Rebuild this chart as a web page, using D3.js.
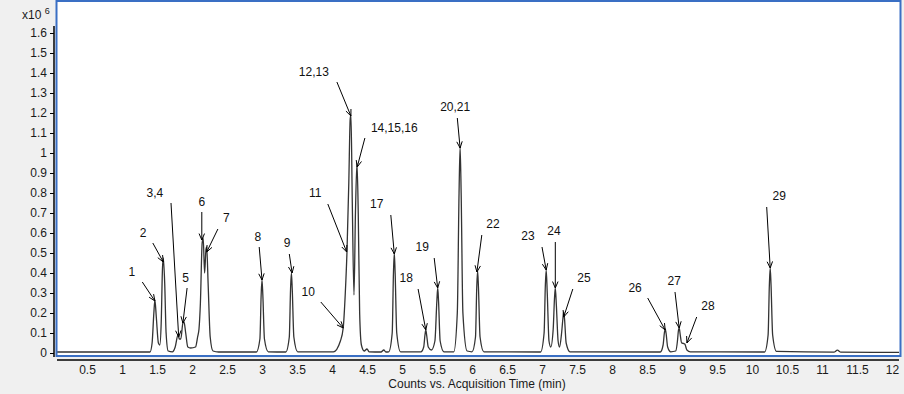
<!DOCTYPE html>
<html>
<head>
<meta charset="utf-8">
<script src="https://cdn.jsdelivr.net/npm/d3@7"></script>
<style>
  body { margin: 0; background: #f0f0f0; }
  svg { display: block; font-family: "Liberation Sans", Arial, sans-serif; }
</style>
</head>
<body>
<svg width="904" height="394"></svg>
<script>
// chromatogram trace, [time (min), counts x10^6]
var trace = [
  [0.07,0.005],[1.40,0.005],[1.43,0.05],[1.455,0.2],[1.47,0.265],[1.49,0.18],[1.52,0.05],[1.54,0.04],
  [1.56,0.15],[1.578,0.42],[1.59,0.475],[1.61,0.35],[1.63,0.1],[1.66,0.01],[1.72,0.006],[1.76,0.03],
  [1.80,0.09],[1.82,0.07],[1.84,0.07],[1.87,0.15],[1.886,0.155],[1.91,0.1],[1.94,0.03],[1.98,0.025],
  [2.05,0.03],[2.08,0.08],[2.10,0.12],[2.12,0.25],[2.145,0.55],[2.16,0.575],[2.18,0.4],[2.20,0.52],
  [2.21,0.53],[2.23,0.35],[2.26,0.08],[2.30,0.01],[2.38,0.005],
  [2.92,0.005],[2.97,0.07],[2.988,0.29],[3.0,0.365],[3.012,0.29],[3.035,0.07],[3.09,0.006],
  [3.34,0.005],[3.39,0.08],[3.408,0.32],[3.42,0.40],[3.432,0.32],[3.455,0.08],[3.51,0.006],
  [4.02,0.006],[4.12,0.06],[4.16,0.125],[4.19,0.3],[4.214,0.505],[4.24,0.85],[4.26,1.17],[4.271,1.19],
  [4.29,0.75],[4.314,0.29],[4.335,0.7],[4.357,0.95],[4.375,0.7],[4.395,0.2],[4.42,0.04],[4.46,0.01],
  [4.5,0.02],[4.53,0.006],[4.70,0.005],[4.74,0.015],[4.77,0.005],
  [4.81,0.006],[4.86,0.1],[4.878,0.4],[4.89,0.50],[4.902,0.4],[4.925,0.1],[4.98,0.006],
  [5.27,0.006],[5.31,0.03],[5.328,0.09],[5.34,0.115],[5.352,0.09],[5.375,0.03],[5.42,0.015],
  [5.47,0.06],[5.498,0.26],[5.51,0.325],[5.522,0.26],[5.545,0.06],[5.60,0.006],
  [5.74,0.006],[5.79,0.2],[5.815,0.8],[5.83,1.03],[5.845,0.8],[5.87,0.2],[5.93,0.01],
  [6.0,0.006],[6.05,0.08],[6.068,0.33],[6.08,0.41],[6.092,0.33],[6.115,0.08],[6.17,0.006],
  [6.98,0.005],[7.03,0.1],[7.048,0.34],[7.06,0.415],[7.075,0.3],[7.10,0.06],[7.125,0.03],
  [7.16,0.12],[7.178,0.27],[7.19,0.325],[7.205,0.24],[7.23,0.06],[7.25,0.03],[7.28,0.1],
  [7.298,0.17],[7.31,0.205],[7.322,0.17],[7.345,0.05],[7.40,0.006],
  [8.69,0.005],[8.73,0.04],[8.748,0.1],[8.76,0.12],[8.772,0.1],[8.795,0.03],[8.84,0.006],
  [8.91,0.01],[8.935,0.06],[8.948,0.11],[8.96,0.125],[8.975,0.09],[8.995,0.05],[9.02,0.048],
  [9.04,0.045],[9.07,0.015],[9.12,0.006],
  [10.18,0.005],[10.23,0.09],[10.248,0.34],[10.26,0.425],[10.272,0.34],[10.295,0.09],[10.35,0.008],
  [11.17,0.004],[11.22,0.014],[11.27,0.004],[12.1,0.003]
];

// peak labels: text, label centre, arrow tail, arrow tip (time, counts x10^6)
var peakLabels = ["1","2","3,4","5","6","7","8","9","10","11","12,13","14,15,16","17","18","19",
  "20,21","22","23","24","25","26","27","28","29"];
var labelPos = [[1.14,0.405],[1.30,0.60],[1.47,0.80],[1.91,0.375],[2.14,0.755],[2.49,0.675],
  [2.94,0.58],[3.36,0.55],[3.66,0.305],[3.76,0.80],[3.74,1.405],[4.89,1.125],[4.64,0.745],
  [5.06,0.375],[5.29,0.53],[5.76,1.23],[6.30,0.645],[6.80,0.585],[7.17,0.61],[7.60,0.375],
  [8.33,0.325],[8.89,0.36],[9.37,0.235],[10.39,0.785]];
var arrowTail = [[1.29,0.355],[1.44,0.55],[1.70,0.75],[1.93,0.325],[2.14,0.705],[2.37,0.62],
  [2.96,0.53],[3.39,0.495],[3.84,0.255],[3.94,0.745],[4.07,1.355],[4.47,1.075],[4.84,0.69],
  [5.23,0.32],[5.46,0.475],[5.79,1.175],[6.14,0.59],[7.0,0.53],[7.19,0.555],[7.44,0.32],
  [8.51,0.275],[8.90,0.305],[9.21,0.18],[10.21,0.73]];
var arrowTip = [[1.47,0.26],[1.59,0.455],[1.81,0.08],[1.87,0.15],[2.14,0.565],[2.21,0.505],
  [3.0,0.365],[3.43,0.40],[4.16,0.125],[4.21,0.505],[4.27,1.185],[4.36,0.93],[4.89,0.495],
  [5.34,0.115],[5.51,0.325],[5.83,1.025],[6.07,0.405],[7.06,0.415],[7.19,0.325],[7.31,0.18],
  [8.76,0.115],[8.96,0.125],[9.07,0.05],[10.26,0.425]];

var xTicks = [0.5,1,1.5,2,2.5,3,3.5,4,4.5,5,5.5,6,6.5,7,7.5,8,8.5,9,9.5,10,10.5,11,11.5,12];
var yTicks = [0,0.1,0.2,0.3,0.4,0.5,0.6,0.7,0.8,0.9,1,1.1,1.2,1.3,1.4,1.5,1.6];

var svg = d3.select("svg");
var plotL = 57, plotR = 900, plotT = 1, plotB = 356;

var x = d3.scaleLinear().domain([0, 12]).range([52, 892]);
var y = d3.scaleLinear().domain([0, 1.6]).range([353, 33]);

// plot area
svg.append("rect")
  .attr("x", plotL).attr("y", plotT)
  .attr("width", plotR - plotL).attr("height", plotB - plotT)
  .attr("fill", "#fff");

svg.append("clipPath").attr("id", "clip")
  .append("rect").attr("x", plotL).attr("y", plotT)
  .attr("width", plotR - plotL).attr("height", plotB - plotT);

var line = d3.line()
  .x(function(d) { return x(d[0]); })
  .y(function(d) { return y(d[1]); })
  .curve(d3.curveMonotoneX);

svg.append("path")
  .datum(trace)
  .attr("clip-path", "url(#clip)")
  .attr("d", line)
  .attr("fill", "none")
  .attr("stroke", "#333")
  .attr("stroke-width", 1.3);

// annotations
var ann = svg.append("g").attr("class", "ann");
peakLabels.forEach(function(lab, i) {
  var x1 = x(arrowTail[i][0]), y1 = y(arrowTail[i][1]);
  var x2 = x(arrowTip[i][0]), y2 = y(arrowTip[i][1]);
  ann.append("line")
    .attr("x1", x1).attr("y1", y1).attr("x2", x2).attr("y2", y2)
    .attr("stroke", "#000").attr("stroke-width", 1);
  var a = Math.atan2(y2 - y1, x2 - x1), len = 7, spread = 0.4;
  var head = [
    [x2 - len * Math.cos(a - spread), y2 - len * Math.sin(a - spread)],
    [x2, y2],
    [x2 - len * Math.cos(a + spread), y2 - len * Math.sin(a + spread)]
  ];
  ann.append("path")
    .attr("d", d3.line()(head))
    .attr("fill", "none").attr("stroke", "#000").attr("stroke-width", 1);
  ann.append("text")
    .attr("x", x(labelPos[i][0])).attr("y", y(labelPos[i][1]))
    .attr("text-anchor", "middle").attr("dy", "0.35em")
    .attr("font-size", 12).attr("fill", "#111")
    .text(lab);
});

// blue frame
svg.append("rect")
  .attr("x", plotL - 0.5).attr("y", plotT)
  .attr("width", plotR - plotL + 1).attr("height", plotB - plotT)
  .attr("fill", "none").attr("stroke", "#3a6fc4").attr("stroke-width", 2);

// y axis
var yAxis = d3.axisLeft(y).tickValues(yTicks).tickSize(4).tickPadding(3)
  .tickFormat(d3.format("~g"));
var gy = svg.append("g").attr("transform", "translate(54,0)").call(yAxis);
gy.select(".domain").attr("d", "M0,26V357").attr("stroke", "#000").attr("stroke-width", 1.5);
gy.selectAll("text").attr("font-size", 12).attr("fill", "#1a1a1a")
  .attr("font-family", "Liberation Sans, Arial, sans-serif");

// x axis
var xAxis = d3.axisBottom(x).tickValues(xTicks).tickSize(0).tickPadding(5)
  .tickFormat(d3.format("~g"));
var gx = svg.append("g").attr("transform", "translate(0,360)").call(xAxis);
gx.select(".domain").attr("d", "M57,0H899").attr("stroke", "#000").attr("stroke-width", 1.5);
gx.selectAll("text").attr("font-size", 12).attr("fill", "#1a1a1a")
  .attr("font-family", "Liberation Sans, Arial, sans-serif");

svg.append("text")
  .attr("x", 477).attr("y", 388)
  .attr("text-anchor", "middle").attr("font-size", 12).attr("fill", "#1a1a1a")
  .text("Counts vs. Acquisition Time (min)");

// multiplier label
var mult = svg.append("text").attr("x", 22).attr("y", 19).attr("font-size", 12).attr("fill", "#1a1a1a");
mult.append("tspan").text("x10 ");
mult.append("tspan").attr("font-size", 9).attr("dy", -5).text("6");
</script>
</body>
</html>
